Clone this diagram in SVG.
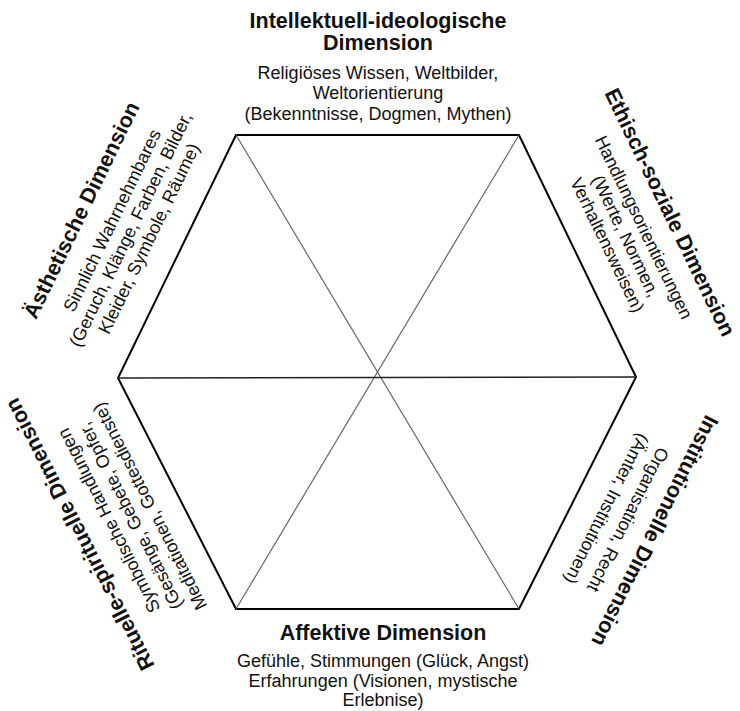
<svg xmlns="http://www.w3.org/2000/svg" width="740" height="711" viewBox="0 0 740 711">
<style>
text{font-family:"Liberation Sans",Arial,Helvetica,sans-serif;fill:#111;text-anchor:middle}
.t{font-weight:bold;font-size:21.5px}
.s{font-size:18px}
.edge{stroke:#000;stroke-width:2;fill:none;stroke-linejoin:miter}
.diag{stroke:#666;stroke-width:1.2}
.mid{stroke:#222;stroke-width:1.4}
</style>
<rect width="740" height="711" fill="#fff"/>
<g id="connectors">
<polygon class="edge" points="236,135 519,135 636,377 519,609 236,609 118,378"/>
<line class="diag" x1="236" y1="135" x2="519" y2="609"/>
<line class="diag" x1="519" y1="135" x2="236" y2="609"/>
<line class="mid" x1="118" y1="378" x2="636" y2="377"/>
</g>
<g id="intellektuell">
<text class="t" x="378" y="27.5">Intellektuell-ideologische</text>
<text class="t" x="378" y="50">Dimension</text>
<text class="s" x="378" y="78.5">Religiöses Wissen, Weltbilder,</text>
<text class="s" x="378" y="99">Weltorientierung</text>
<text class="s" x="378" y="119.5">(Bekenntnisse, Dogmen, Mythen)</text>
</g>
<g id="ethisch" transform="translate(577.5,256) rotate(64.2)">
<text class="t" x="1" y="-95">Ethisch-soziale Dimension</text>
<text class="s" x="3" y="-66">Handlungsorientierungen</text>
<text class="s" x="3" y="-46">(Werte, Normen,</text>
<text class="s" x="3" y="-25.5">Verhaltensweisen)</text>
</g>
<g id="institutionell" transform="translate(577.5,493) rotate(116.8)">
<text class="t" x="-1" y="-79">Institutionelle Dimension</text>
<text class="s" x="1" y="-51">Organisation, Recht</text>
<text class="s" x="1" y="-27">(Ämter, Institutionen)</text>
</g>
<g id="affektiv">
<text class="t" x="383" y="640">Affektive Dimension</text>
<text class="s" x="383" y="667">Gefühle, Stimmungen (Glück, Angst)</text>
<text class="s" x="383" y="687">Erfahrungen (Visionen, mystische</text>
<text class="s" x="383" y="706">Erlebnise)</text>
</g>
<g id="rituell" transform="translate(177,493.5) rotate(-117.1)">
<text class="t" x="8" y="-98">Rituelle-spirituelle Dimension</text>
<text class="s" x="7" y="-67">Symbolische Handlungen</text>
<text class="s" x="1" y="-45.5">(Gesänge, Gebete, Opfer,</text>
<text class="s" x="1" y="-24">Meditationen, Gottesdienste)</text>
</g>
<g id="aesthetisch" transform="translate(177,256.5) rotate(-64.1)">
<text class="t" x="0" y="-99">Ästhetische Dimension</text>
<text class="s" x="4" y="-68">Sinnlich Wahrnehmbares</text>
<text class="s" x="4" y="-47.5">(Geruch, Klänge, Farben, Bilder,</text>
<text class="s" x="4" y="-27">Kleider, Symbole, Räume)</text>
</g>
</svg>
